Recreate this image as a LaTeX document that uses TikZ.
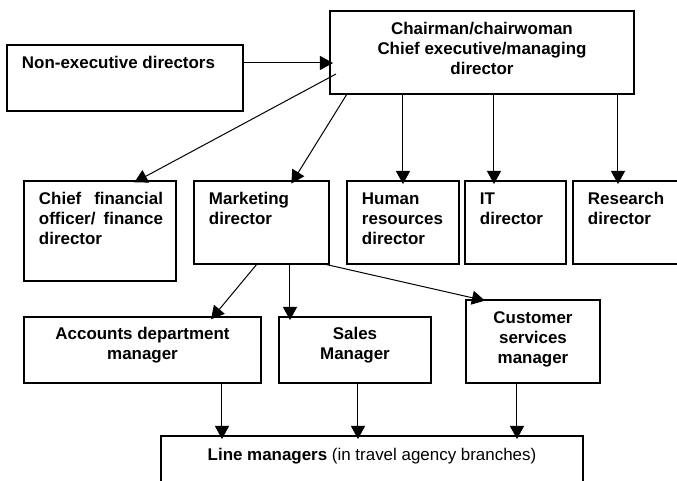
\documentclass[tikz,border=0pt]{standalone}
\usepackage{fontspec}
\setmainfont{Liberation Sans}
\usetikzlibrary{arrows.meta,calc}

\begin{document}
\begin{tikzpicture}[
    x=0.5pt, y=-0.5pt,
    box/.style={draw, line width=0.65pt, inner sep=0pt, outer sep=0pt, anchor=north west},
    lbl/.style={inner sep=0pt, outer sep=0pt, anchor=north west, align=left,
                font=\fontsize{8.47pt}{10pt}\selectfont\bfseries},
    clbl/.style={lbl, anchor=north, align=center},
    arr/.style={line width=0.5pt, -{Triangle[length=6.5pt,width=7pt]}, shorten >=-1.5pt}
  ]
  % page frame
  \path[use as bounding box, clip] (0,0) rectangle (677,481);
  \fill[white] (0,0) rectangle (677,481);

  % boxes
  \node[box, minimum width=152pt, minimum height=41.5pt] (chair) at (330,11) {};
  \node[box, minimum width=118pt, minimum height=33pt] (nonexec) at (7,45) {};
  \node[box, minimum width=76pt, minimum height=50pt] (cfo) at (24,181) {};
  \node[box, minimum width=67.5pt, minimum height=41.5pt] (mkt) at (194,181) {};
  \node[box, minimum width=56pt, minimum height=41.5pt] (hr) at (347,181) {};
  \node[box, minimum width=50.5pt, minimum height=41.5pt] (it) at (465,181) {};
  \node[box, minimum width=60pt, minimum height=41.5pt] (res) at (573,181) {};
  \node[box, minimum width=118.5pt, minimum height=33pt] (acc) at (24,317) {};
  \node[box, minimum width=76pt, minimum height=33pt] (sales) at (279,317) {};
  \node[box, minimum width=67pt, minimum height=41.5pt] (cust) at (466,300) {};
  \node[box, minimum width=211pt, minimum height=35pt] (linem) at (161,436) {};

  % box texts
  \node[clbl] (chairtxt) at ([yshift=-5pt]chair.north)
    {\strut Chairman/chairwoman\\Chief executive/managing\\director};
  \node[lbl] (nonexectxt) at ([shift={(7.5pt,-5pt)}]nonexec.north west)
    {\strut Non-executive directors};
  \node[lbl, text width=62pt] (cfotxt) at ([shift={(7.5pt,-5pt)}]cfo.north west)
    {\strut Chief\hfill financial\\officer/\hfill finance\\director};
  \node[lbl] (mkttxt) at ([shift={(7.5pt,-5pt)}]mkt.north west)
    {\strut Marketing\\director};
  \node[lbl] (hrtxt) at ([shift={(7.5pt,-5pt)}]hr.north west)
    {\strut Human\\resources\\director};
  \node[lbl] (ittxt) at ([shift={(7.5pt,-5pt)}]it.north west)
    {\strut IT\\director};
  \node[lbl] (restxt) at ([shift={(7.5pt,-5pt)}]res.north west)
    {\strut Research\\director};
  \node[clbl] (acctxt) at ([yshift=-4.5pt]acc.north)
    {\strut Accounts department\\manager};
  \node[clbl] (salestxt) at ([yshift=-4.5pt]sales.north)
    {\strut Sales\\Manager};
  \node[clbl] (custtxt) at ([yshift=-5pt]cust.north)
    {\strut Customer\\services\\manager};
  \node[clbl, font=\fontsize{8.47pt}{10pt}\selectfont] (linetxt) at ([yshift=-5.5pt]linem.north)
    {\strut\textbf{Line managers} (in travel agency branches)};

  % reporting lines from the top
  \draw[arr] ([yshift=7.5pt]nonexec.east) coordinate (nx) -- (nx -| chair.west);
  \draw[arr] ([shift={(3pt,-31.5pt)}]chair.north west) -- ([xshift=56.5pt]cfo.north west);
  \draw[arr] ([xshift=8.5pt]chair.south west) -- ([xshift=49.5pt]mkt.north west);
  \coordinate (hrin) at ([xshift=28pt]hr.north west);
  \coordinate (itin) at ([xshift=14.5pt]it.north west);
  \coordinate (resin) at ([xshift=22.5pt]res.north west);
  \draw[arr] (chair.south -| hrin) -- (hrin);
  \draw[arr] (chair.south -| itin) -- (itin);
  \draw[arr] (chair.south -| resin) -- (resin);

  % marketing director's reports
  \draw[arr] ([xshift=31.5pt]mkt.south west) -- ([xshift=94.5pt]acc.north west);
  \draw[arr] ([xshift=48pt]mkt.south west) coordinate (ms) -- (ms |- sales.north);
  \draw[arr] ([xshift=-2.5pt]mkt.south east) -- ([xshift=8pt]cust.north west);

  % managers down to line managers
  \draw[arr] ([xshift=99pt]acc.south west) coordinate (a1) -- (a1 |- linem.north);
  \draw[arr] ([xshift=39.5pt]sales.south west) coordinate (s1) -- (s1 |- linem.north);
  \draw[arr] ([xshift=25.5pt]cust.south west) coordinate (c1) -- (c1 |- linem.north);
\end{tikzpicture}
\end{document}
